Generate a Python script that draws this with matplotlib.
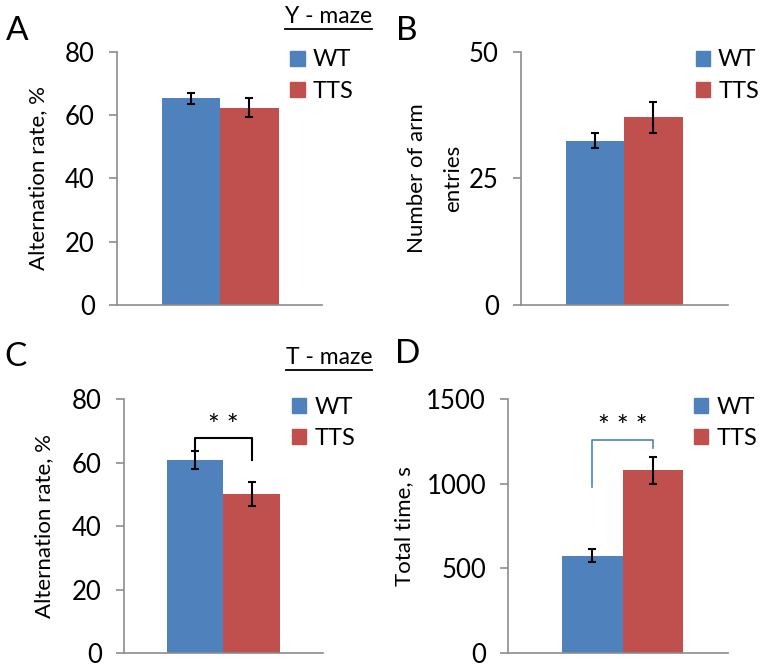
import matplotlib
matplotlib.use("Agg")
import matplotlib.pyplot as plt
from matplotlib.patches import Patch
from matplotlib.lines import Line2D

plt.rcParams['font.family'] = ['Lato', 'DejaVu Sans']

groups = ['WT', 'TTS']
colors = ['#4F81BD', '#C0504D']

# panel A: Y-maze alternation
alt_y = [65.3, 62.4]
alt_y_err = [1.7, 2.9]
# panel B: Y-maze arm entries
entries = [32.5, 37.1]
entries_err = [1.5, 3.1]
# panel C: T-maze alternation
alt_t = [60.8, 50.1]
alt_t_err = [2.7, 3.8]
# panel D: T-maze total time
total_time = [575, 1079]
total_time_err = [37, 81]

fig = plt.figure(figsize=(7.8, 6.68), dpi=100)

# [left, bottom, width, height], xlim, ylim, ticks, ylabel, labelpad
panels = [
    ([0.150, 0.5434, 0.263, 0.3788], (-1.28, 2.25), (0, 80), [0, 20, 40, 60, 80],
     'Alternation rate, %', 12, alt_y, alt_y_err),
    ([0.668, 0.5434, 0.265, 0.3788], (-1.26, 2.27), (0, 50), [0, 25, 50],
     'Number of arm\nentries', 4, entries, entries_err),
    ([0.159, 0.0225, 0.255, 0.380], (-1.25, 2.26), (0, 80), [0, 20, 40, 60, 80],
     'Alternation rate, %', 13, alt_t, alt_t_err),
    ([0.6517, 0.0225, 0.2816, 0.380], (-1.39, 2.24), (0, 1500), [0, 500, 1000, 1500],
     'Total time, s', 9, total_time, total_time_err),
]

axes = []
for rect, xl, yl, ticks, ylab, lpad, vals, errs in panels:
    ax = fig.add_axes(rect)
    ax.bar([0, 1], vals, width=1.0, color=colors, zorder=2)
    ax.errorbar([0, 1], vals, yerr=errs, fmt='none', ecolor='black',
                elinewidth=1.5, capsize=3, capthick=1.5, zorder=3)
    ax.set_xlim(*xl)
    ax.set_ylim(*yl)
    ax.set_yticks(ticks)
    ax.set_xticks([])
    for s in ['top', 'right']:
        ax.spines[s].set_visible(False)
    for s in ['left', 'bottom']:
        ax.spines[s].set_color('#8C8C8C')
        ax.spines[s].set_linewidth(1.2)
    ax.tick_params(axis='y', colors='#8C8C8C', labelcolor='black', labelsize=18.5,
                   length=6, width=1.2, pad=10)
    ax.set_ylabel(ylab, fontsize=16, labelpad=lpad, linespacing=2.05)
    handles = [Patch(color=c, label=g) for c, g in zip(colors, groups)]
    ax.legend(handles=handles, loc='upper left', bbox_to_anchor=(0.845, 1.01),
              frameon=False, fontsize=17, handlelength=0.6, handleheight=0.6,
              handletextpad=0.35, labelspacing=0.45, borderpad=0, borderaxespad=0)
    axes.append(ax)

ax_a, ax_b, ax_c, ax_d = axes

fig.text(0.008, 0.94, 'A', fontsize=24)
fig.text(0.508, 0.94, 'B', fontsize=24)
fig.text(0.006, 0.452, 'C', fontsize=24)
fig.text(0.507, 0.457, 'D', fontsize=24)

t1 = fig.text(0.477, 0.966, 'Y - maze', fontsize=16.5, ha='right')
t2 = fig.text(0.477, 0.455, 'T - maze', fontsize=16.5, ha='right')

# significance brackets
ax_c.plot([0, 0, 1, 1], [63.9, 67.9, 67.9, 60.8], color='black', lw=1.5, zorder=4)
ax_c.text(0.5, 71.2, '* *', ha='center', va='center', fontsize=20)
ax_d.plot([0, 0, 1, 1], [982, 1257, 1257, 1209], color='#4F81BD', lw=1.2, zorder=4)
ax_d.text(0.5, 1330, '* * *', ha='center', va='center', fontsize=20)

# underline the maze titles
fig.canvas.draw()
r = fig.canvas.get_renderer()
for t in [t1, t2]:
    bb = t.get_window_extent(r).transformed(fig.transFigure.inverted())
    fig.add_artist(Line2D([bb.x0, bb.x1], [bb.y0 - 0.003, bb.y0 - 0.003],
                          color='black', lw=1.3, transform=fig.transFigure))

fig.savefig('out.png', dpi=100)
